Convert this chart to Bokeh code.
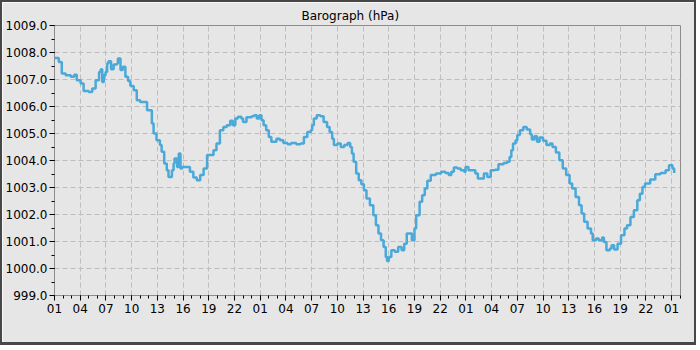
from bokeh.plotting import figure
from bokeh.models import SingleIntervalTicker, Legend, LegendItem, Range1d, NumeralTickFormatter
from bokeh.embed import file_html
from bokeh.resources import INLINE

# ---- data (hours since 01:00 on day 1, pressure in hPa) ----
hours = [0.0, 0.1, 0.5, 0.85, 1.3, 1.9, 2.3, 2.6, 3.05, 3.4, 4.0, 4.4, 4.8, 5.2, 5.4, 5.57, 5.76, 5.96,
         6.14, 6.3, 6.6, 6.9, 7.3, 7.4, 7.7, 7.96, 8.27, 8.58, 8.85, 9.24, 9.6, 10.0, 10.4, 10.8, 11.2,
         11.36, 11.56, 11.9, 12.3, 12.5, 12.8, 13.1, 13.3, 13.7, 13.9, 14.0, 14.3, 14.5, 14.7, 14.9,
         15.5, 15.8, 16.2, 16.6, 17.0, 17.4, 17.8, 18.2, 18.55, 18.9, 19.3, 19.7, 20.1, 20.5, 20.8,
         21.1, 21.4, 21.8, 22.0, 22.4, 23.0, 23.3, 23.6, 23.9, 24.15, 24.4, 24.7, 25.0, 25.3, 25.9,
         26.3, 26.7, 27.2, 27.6, 28.2, 28.7, 29.1, 29.5, 29.9, 30.06, 30.26, 30.6, 31.0, 31.4, 31.8,
         32.1, 32.4, 32.6, 33.0, 33.4, 33.8, 34.2, 34.5, 34.7, 34.9, 35.2, 35.5, 35.8, 36.1, 36.4,
         36.8, 37.2, 37.5, 37.8, 38.1, 38.4, 38.65, 38.8, 39.0, 39.3, 39.7, 40.1, 40.5, 40.8, 41.1,
         41.5, 41.7, 42.0, 42.2, 42.6, 42.9, 43.2, 43.5, 43.9, 44.5, 45.1, 45.6, 46.0, 46.3, 46.6,
         47.0, 47.4, 47.8, 47.96, 48.3, 48.7, 49.1, 49.4, 49.7, 50.1, 50.5, 50.9, 51.4, 51.8, 52.4,
         52.8, 53.1, 53.3, 53.5, 53.8, 54.0, 54.3, 54.7, 55.1, 55.5, 55.7, 56.0, 56.3, 56.6, 57.0,
         57.4, 57.8, 58.1, 58.5, 58.9, 59.3, 59.7, 60.1, 60.4, 60.8, 61.2, 61.5, 61.8, 62.2, 62.6,
         62.8, 63.2, 63.5, 63.9, 64.1, 64.4, 64.8, 65.0, 65.3, 65.7, 66.1, 66.5, 66.8, 67.2, 67.6,
         68.0, 68.3, 68.6, 68.9, 69.5, 70.1, 70.7, 71.3, 71.7, 72.1, 72.3]
pressure = [1007.80, 1007.80, 1007.65, 1007.22, 1007.16, 1007.10, 1007.18, 1006.97, 1006.85, 1006.57,
            1006.54, 1006.67, 1006.97, 1007.28, 1007.38, 1006.91, 1007.16, 1007.28, 1007.59, 1007.68,
            1007.38, 1007.56, 1007.59, 1007.78, 1007.35, 1007.47, 1007.10, 1006.94, 1006.76, 1006.60,
            1006.23, 1006.17, 1006.17, 1005.86, 1005.86, 1005.37, 1005.00, 1004.75, 1004.57, 1004.32,
            1003.89, 1003.64, 1003.39, 1003.64, 1003.89, 1004.07, 1003.76, 1004.26, 1003.70, 1003.76,
            1003.76, 1003.58, 1003.37, 1003.27, 1003.46, 1003.70, 1004.20, 1004.20, 1004.38, 1004.63,
            1005.12, 1005.24, 1005.31, 1005.47, 1005.31, 1005.56, 1005.62, 1005.56, 1005.43, 1005.60,
            1005.64, 1005.68, 1005.56, 1005.68, 1005.49, 1005.31, 1005.12, 1004.87, 1004.69, 1004.81,
            1004.75, 1004.65, 1004.60, 1004.65, 1004.60, 1004.63, 1004.87, 1005.06, 1005.12, 1005.31,
            1005.56, 1005.68, 1005.64, 1005.43, 1005.24, 1005.06, 1004.81, 1004.57, 1004.63, 1004.50,
            1004.57, 1004.65, 1004.50, 1004.26, 1003.95, 1003.52, 1003.27, 1003.12, 1002.90, 1002.59,
            1002.34, 1001.97, 1001.60, 1001.30, 1001.05, 1000.80, 1000.43, 1000.28, 1000.43, 1000.68,
            1000.62, 1000.80, 1000.68, 1000.92, 1001.30, 1001.30, 1001.05, 1001.48, 1001.97, 1002.47,
            1002.71, 1002.96, 1003.25, 1003.46, 1003.52, 1003.58, 1003.54, 1003.46, 1003.58, 1003.74,
            1003.70, 1003.64, 1003.58, 1003.76, 1003.64, 1003.64, 1003.52, 1003.33, 1003.33, 1003.52,
            1003.39, 1003.64, 1003.66, 1003.86, 1003.91, 1003.95, 1004.13, 1004.38, 1004.63, 1004.75,
            1004.94, 1005.12, 1005.24, 1005.15, 1004.97, 1004.78, 1004.90, 1004.69, 1004.85, 1004.73,
            1004.57, 1004.63, 1004.50, 1004.30, 1004.01, 1003.70, 1003.46, 1003.15, 1002.96, 1002.65,
            1002.34, 1002.04, 1001.73, 1001.48, 1001.30, 1001.05, 1001.11, 1001.05, 1001.15, 1000.98,
            1000.68, 1000.74, 1000.86, 1000.70, 1000.92, 1001.23, 1001.48, 1001.60, 1001.91, 1002.16,
            1002.53, 1002.77, 1003.02, 1003.15, 1003.30, 1003.49, 1003.54, 1003.64, 1003.82, 1003.70,
            1003.54]
x_tick_labels = ["01", "04", "07", "10", "13", "16", "19", "22",
                 "01", "04", "07", "10", "13", "16", "19", "22",
                 "01", "04", "07", "10", "13", "16", "19", "22", "01"]
tick_step_hours = 3
x_end_hours = 73.04
y_min, y_max = 999.0, 1009.0

BG = "#e6e6e6"
LINE = "#4aa9d9"
FONT = "DejaVu Sans"

p = figure(width=696, height=345, output_backend="svg", toolbar_location=None,
           x_range=Range1d(0, x_end_hours), y_range=Range1d(y_min, y_max),
           min_border_left=48, min_border_right=18, min_border_top=23, min_border_bottom=52)
p.styles = {"border-style": "solid", "border-color": "#474747",
            "border-width": "2px 2px 3px 2px"}

p.background_fill_color = BG
p.border_fill_color = BG
p.outline_line_color = "#8c8c8c"
p.outline_line_width = 1

# title
p.title.text = "Barograph (hPa)"
p.title.align = "left"
p.title.offset = 247
p.title.text_font = FONT
p.title.text_font_size = "12px"
p.title.text_font_style = "normal"
p.title.text_color = "#000000"
p.title.standoff = 6

r = p.step(hours, pressure, mode="after", line_color=LINE, line_width=2.5)

# axes
p.xaxis.ticker = SingleIntervalTicker(interval=tick_step_hours, num_minor_ticks=3)
p.xaxis.major_label_overrides = {i * tick_step_hours: lab for i, lab in enumerate(x_tick_labels)}
p.yaxis.ticker = SingleIntervalTicker(interval=1, num_minor_ticks=2)
p.yaxis.formatter = NumeralTickFormatter(format="0.0")

for ax in (p.xaxis[0], p.yaxis[0]):
    ax.axis_line_color = "#8c8c8c"
    ax.major_tick_line_color = "#000000"
    ax.minor_tick_line_color = "#000000"
    ax.major_tick_in = 0
    ax.minor_tick_in = 0
    ax.major_label_text_font = FONT
    ax.major_label_text_font_size = "12px"
    ax.major_label_text_color = "#000000"
p.yaxis.major_tick_out = 5
p.yaxis.minor_tick_out = 3
p.yaxis.major_label_standoff = 2
p.xaxis.major_tick_out = 5
p.xaxis.minor_tick_out = 3
p.xaxis.major_label_standoff = 3

# grid
for g in (p.xgrid[0], p.ygrid[0]):
    g.grid_line_color = "#bdbdbd"
    g.grid_line_dash = "5 3"
    g.grid_line_width = 1

legend = Legend(items=[LegendItem(label="Pressure", renderers=[r])],
                location=(259, -52), orientation="horizontal",
                border_line_color="#8c8c8c", background_fill_color="#ececec",
                background_fill_alpha=1.0, padding=4, margin=0, spacing=0,
                glyph_width=11, glyph_height=12, label_height=12, label_standoff=9,
                label_text_font=FONT, label_text_font_size="12px")
p.add_layout(legend, "center")

open("out.html", "w").write(file_html(p, INLINE))
